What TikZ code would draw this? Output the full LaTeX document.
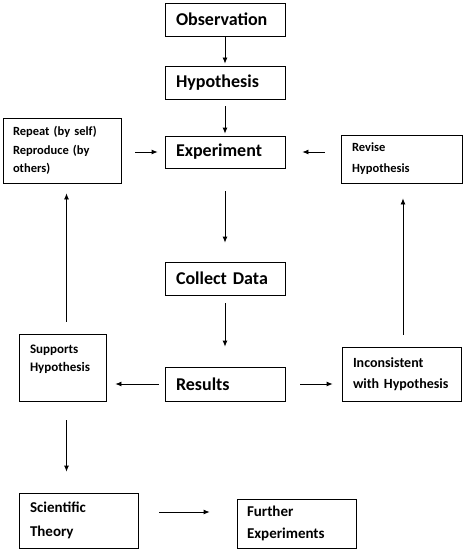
\documentclass[tikz,border=0pt]{standalone}
\usepackage{fontspec}
\setmainfont{Carlito}
\usetikzlibrary{arrows.meta}

\begin{document}
\begin{tikzpicture}[x=1pt,y=-1pt,
  box/.style={draw,line width=0.8pt,inner xsep=0pt,inner ysep=0pt,align=left},
  big/.style={box,font=\bfseries\fontsize{18}{22}\selectfont,minimum width=120pt,text width=98pt,minimum height=33pt},
  arr/.style={-{Latex[length=6pt,width=5pt]},line width=0.8pt}]
\useasboundingbox (0,0) rectangle (463,551);
% middle column
\node [big] (obs) at (225,19.5) {Observation};
\node [big] (hyp) at (225,82.5) {Hypothesis};
\node [big,minimum height=32pt] (exp) at (225,152) {Experiment};
\node [big] (col) at (225,278.5) {Collect Data};
\node [big,minimum height=34pt] (res) at (225,384) {Results};
% side boxes
\node [box,font=\bfseries\fontsize{12.5}{18.5}\selectfont,minimum width=118pt,text width=98pt,minimum height=65pt] (rep) at (62,150.5) {Repeat (by self)\\Reproduce (by\\others)};
\node [box,font=\bfseries\fontsize{12.5}{21}\selectfont,minimum width=121pt,text width=99pt,minimum height=48pt] (rev) at (401.5,159) {Revise\\Hypothesis};
\node [box,font=\bfseries\fontsize{13}{18}\selectfont,minimum width=87pt,text width=65pt,minimum height=67pt] (sup) at (62.5,367.5) {Supports\\Hypothesis\\\mbox{}};
\node [box,font=\bfseries\fontsize{14}{21}\selectfont,minimum width=119pt,text width=97pt,minimum height=54pt] (inc) at (401.5,374) {Inconsistent\\with Hypothesis};
\node [box,font=\bfseries\fontsize{15}{24}\selectfont,minimum width=119pt,text width=97pt,minimum height=55pt] (sci) at (78.5,520.5) {Scientific\\Theory};
\node [box,font=\bfseries\fontsize{15}{22}\selectfont,minimum width=119pt,text width=99pt,minimum height=49pt] (fur) at (296.5,523.5) {Further\\Experiments};
% arrows
\draw [arr,shorten >=2pt] (obs) -- (hyp);
\draw [arr,shorten <=7pt,shorten >=2pt] (hyp) -- (exp);
\draw [arr,shorten <=23pt,shorten >=19pt] (exp) -- (col);
\draw [arr,shorten <=8pt,shorten >=20pt] (col) -- (res);
\draw [arr,shorten <=14pt,shorten >=7pt] (rep.east |- exp.west) -- (exp.west);
\draw [arr,shorten <=16pt,shorten >=17pt] (rev.west |- exp.east) -- (exp.east);
\draw [arr,shorten <=6pt,shorten >=9pt] (res.west) -- (res.west -| sup.east);
\draw [arr,shorten <=15pt,shorten >=9pt] (res.east) -- (res.east -| inc.west);
\draw [arr,shorten <=12pt,shorten >=10pt] ([xshift=4pt]sup.north) -- ([xshift=4pt]sup.north |- rep.south);
\draw [arr,shorten <=12pt,shorten >=15pt] ([xshift=1.5pt]inc.north) -- ([xshift=1.5pt]inc.north |- rev.south);
\draw [arr,shorten <=19pt,shorten >=21pt] ([xshift=4pt]sup.south) -- ([xshift=4pt]sup.south |- sci.north);
\draw [arr,shorten <=21pt,shorten >=27pt] ([yshift=8.5pt]sci.east) -- ([yshift=8.5pt]sci.east -| fur.west);
\end{tikzpicture}
\end{document}
